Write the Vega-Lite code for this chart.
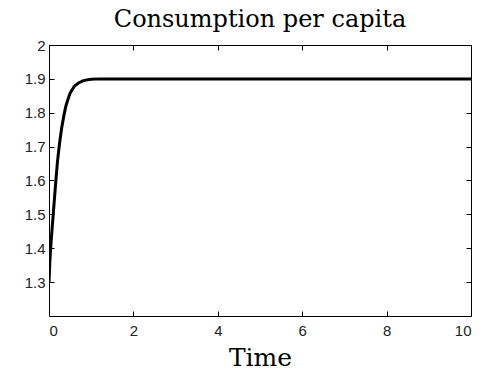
{
  "$schema": "https://vega.github.io/schema/vega-lite/v6.json",
  "autosize": {"type": "none"},
  "width": 422,
  "height": 271,
  "padding": {"left": 49, "top": 45, "right": 10, "bottom": 56},
  "background": "white",
  "title": {"text": "Consumption per capita", "font": "DejaVu Serif", "fontSize": 24, "fontWeight": "normal", "color": "black", "baseline": "alphabetic", "offset": -13, "anchor": "middle"},
  "config": {
    "view": {"stroke": "black", "strokeWidth": 1},
    "axis": {"grid": false, "domain": false, "tickColor": "black", "tickSize": -5, "labelFont": "Liberation Sans", "labelFontSize": 15, "labelColor": "#222", "labelPadding": 9}
  },
  "data": {"values": [
    {"t": 0, "c": 1.3},
    {"t": 0.02, "c": 1.36},
    {"t": 0.05, "c": 1.42},
    {"t": 0.1, "c": 1.5},
    {"t": 0.15, "c": 1.58},
    {"t": 0.2, "c": 1.655},
    {"t": 0.25, "c": 1.71},
    {"t": 0.3, "c": 1.755},
    {"t": 0.35, "c": 1.79},
    {"t": 0.4, "c": 1.82},
    {"t": 0.45, "c": 1.84},
    {"t": 0.5, "c": 1.858},
    {"t": 0.6, "c": 1.878},
    {"t": 0.7, "c": 1.888},
    {"t": 0.8, "c": 1.894},
    {"t": 0.9, "c": 1.897},
    {"t": 1.0, "c": 1.899},
    {"t": 1.2, "c": 1.9},
    {"t": 2, "c": 1.9},
    {"t": 4, "c": 1.9},
    {"t": 6, "c": 1.9},
    {"t": 8, "c": 1.9},
    {"t": 10, "c": 1.9}
  ]},
  "layer": [
    {
      "mark": {"type": "line", "color": "black", "strokeWidth": 3, "clip": true},
      "encoding": {
        "x": {"field": "t", "type": "quantitative", "scale": {"domain": [0, 10], "nice": false},
          "axis": {"values": [0, 2, 4, 6, 8, 10], "format": "d", "labelPadding": 12, "title": "Time", "titleFont": "DejaVu Serif", "titleFontSize": 25, "titleFontWeight": "normal", "titleColor": "black", "titleBaseline": "alphabetic", "titleY": 49, "titleX": 211}},
        "y": {"field": "c", "type": "quantitative", "scale": {"domain": [1.2, 2], "nice": false, "zero": false},
          "axis": {"values": [1.3, 1.4, 1.5, 1.6, 1.7, 1.8, 1.9, 2.0], "format": ".1~f", "title": null}}
      }
    },
    {
      "mark": {"type": "line", "strokeOpacity": 0},
      "encoding": {
        "x": {"field": "t", "type": "quantitative", "scale": {"domain": [0, 10], "nice": false},
          "axis": {"orient": "top", "values": [0, 2, 4, 6, 8, 10], "labels": false, "title": null}},
        "y": {"field": "c", "type": "quantitative", "scale": {"domain": [1.2, 2], "nice": false, "zero": false},
          "axis": {"orient": "right", "values": [1.3, 1.4, 1.5, 1.6, 1.7, 1.8, 1.9, 2.0], "labels": false, "title": null}}
      }
    }
  ],
  "resolve": {"axis": {"x": "independent", "y": "independent"}}
}
